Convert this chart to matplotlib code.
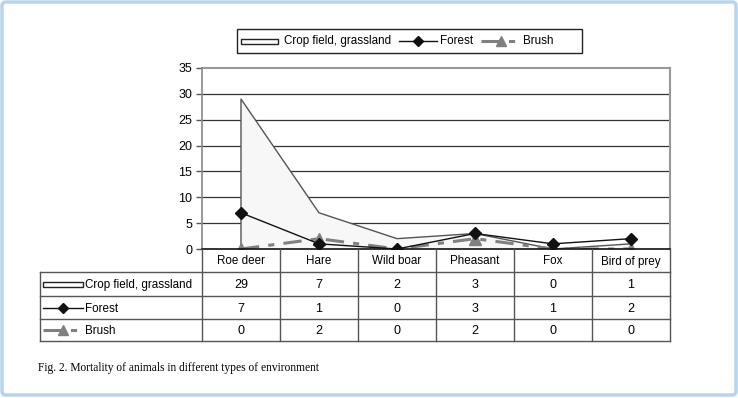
import matplotlib
matplotlib.use("Agg")
import matplotlib.pyplot as plt
import numpy as np
from matplotlib.patches import Rectangle, FancyBboxPatch
from matplotlib.lines import Line2D

categories = ["Roe deer", "Hare", "Wild boar", "Pheasant", "Fox", "Bird of prey"]
series_names = ["Crop field, grassland", "Forest", "Brush"]
crop = [29, 7, 2, 3, 0, 1]
forest = [7, 1, 0, 3, 1, 2]
brush = [0, 2, 0, 2, 0, 0]
yticks = [0, 5, 10, 15, 20, 25, 30, 35]
caption = "Fig. 2. Mortality of animals in different types of environment"

W, H = 738, 398
FONT = ["Liberation Sans", "DejaVu Sans"]
plt.rcParams['font.family'] = FONT
FS = 8.4

fig = plt.figure(figsize=(W / 100, H / 100), dpi=100)
fig.patch.set_facecolor("white")

# plot area in pixels
PL, PR, PT, PB = 202, 670, 68, 249
ax = fig.add_axes([PL / W, 1 - PB / H, (PR - PL) / W, (PB - PT) / H])
x = np.arange(len(categories))
ax.set_xlim(-0.5, len(categories) - 0.5)
ax.set_ylim(0, 35)

# gridlines
for t in yticks[1:-1]:
    ax.axhline(t, color="#333333", lw=0.9, zorder=1)

# series
ax.fill_between(x, crop, 0, facecolor="#f7f7f7", edgecolor="none", zorder=2)
ax.plot(np.r_[x[0], x, x[-1]], np.r_[0, crop, 0], color="#555555", lw=1.0, zorder=3)
ax.plot(x, forest, color="#111111", lw=1.0, marker="D", ms=6, mfc="#111111", mec="#111111", zorder=5)
ax.plot(x, brush, color="#808080", lw=2.2, dashes=(6, 3, 2, 3), marker="^", ms=8,
        mfc="#808080", mec="#808080", zorder=4)

ax.set_xticks([])
ax.set_yticks(yticks)
ax.set_yticklabels([str(t) for t in yticks], fontsize=FS + 0.6)
ax.tick_params(axis="y", length=4, width=1, color="#555555", pad=3)
for s in ["top", "right"]:
    ax.spines[s].set_color("#999999")
    ax.spines[s].set_linewidth(1.5)
ax.spines["left"].set_color("#888888")
ax.spines["left"].set_linewidth(1.2)
ax.spines["bottom"].set_color("#111111")
ax.spines["bottom"].set_linewidth(1.2)
for c in [ax.spines["left"], ax.spines["bottom"]]:
    c.set_zorder(6)

# overlay in pixel coordinates
ov = fig.add_axes([0, 0, 1, 1])
ov.set_xlim(0, W)
ov.set_ylim(H, 0)
ov.axis("off")
ov.patch.set_visible(False)

# outer light-blue frame
ov.add_patch(FancyBboxPatch((2, 2), W - 4, H - 5, boxstyle="round,pad=0,rounding_size=4",
                            fill=False, edgecolor="#b5d5ee", lw=2.5))

# table
edges = np.linspace(PL, PR, len(categories) + 1)
rows = [PB, 272, 296, 319, 341]
TL = 40
lc = "#555555"
for xe in edges:
    ov.plot([xe, xe], [PB, rows[-1]], color=lc, lw=1.0)
ov.plot([TL, TL], [rows[1], rows[-1]], color=lc, lw=1.0)
for r in rows[1:]:
    ov.plot([TL, PR], [r, r], color=lc, lw=1.0)
centers = (edges[:-1] + edges[1:]) / 2
for c, lab in zip(centers, categories):
    ov.text(c, (rows[0] + rows[1]) / 2 + 1, lab, ha="center", va="center", fontsize=FS)
for i, vals in enumerate([crop, forest, brush]):
    ym = (rows[i + 1] + rows[i + 2]) / 2 + 1
    for c, v in zip(centers, vals):
        ov.text(c, ym, str(v), ha="center", va="center", fontsize=FS + 0.6)


def draw_key(kind, x0, ym, w=40):
    if kind == 0:
        ov.add_patch(Rectangle((x0, ym - 2.5), w, 5, facecolor="white", edgecolor="#222222", lw=1.0))
    elif kind == 1:
        ov.add_line(Line2D([x0, x0 + w], [ym, ym], color="#111111", lw=1.0))
        ov.add_line(Line2D([x0 + w / 2], [ym], marker="D", ms=5, color="#111111"))
    else:
        ov.add_line(Line2D([x0, x0 + w], [ym, ym], color="#808080", lw=2.2, dashes=(6, 3, 2, 3)))
        ov.add_line(Line2D([x0 + w / 2], [ym], marker="^", ms=7, color="#808080"))


for i, name in enumerate(series_names):
    ym = (rows[i + 1] + rows[i + 2]) / 2
    draw_key(i, 43, ym)
    ov.text(85, ym + 1, name, ha="left", va="center", fontsize=FS)

# top legend
ov.add_patch(Rectangle((237, 29), 345, 24, facecolor="white", edgecolor="#222222", lw=1.0))
ly = 41
draw_key(0, 241, ly, w=37)
ov.text(284, ly, series_names[0], ha="left", va="center", fontsize=FS)
draw_key(1, 399, ly, w=38)
ov.text(440, ly, series_names[1], ha="left", va="center", fontsize=FS)
draw_key(2, 481, ly, w=39)
ov.text(523, ly, series_names[2], ha="left", va="center", fontsize=FS)

# caption
ov.text(38, 368, caption, ha="left", va="center", fontsize=8.3,
        family=["Liberation Serif", "DejaVu Serif"])

fig.savefig("out.png", dpi=100)
